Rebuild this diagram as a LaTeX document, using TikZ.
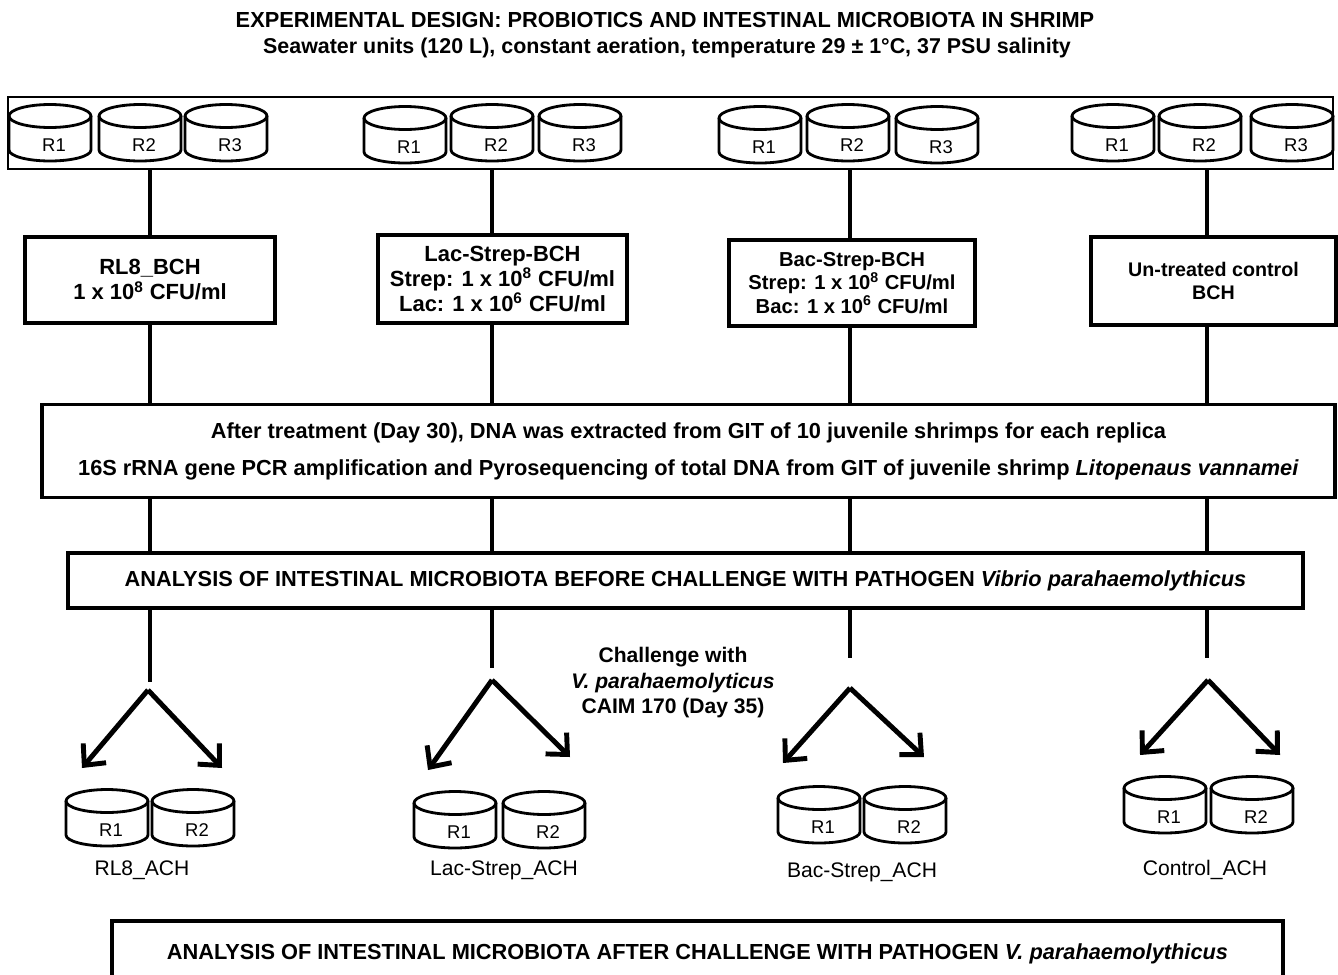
\documentclass[tikz,border=0pt]{standalone}
\usepackage{fontspec}
\setmainfont{Liberation Sans}
\usetikzlibrary{arrows.meta}
\usetikzlibrary{positioning}
\tikzset{box/.style = {draw, line width=2.2pt, inner sep=0pt, align=center, font=\bfseries\fontsize{12.5}{14.2}\selectfont}}
\tikzset{wide/.style = {draw, line width=2.2pt, inner sep=0pt, align=center, font=\bfseries\fontsize{12.4}{21}\selectfont}}
\tikzset{oneline/.style = {wide, text height=0.72em, text depth=0pt}}
\tikzset{link/.style = {line width=2.6pt}}
\tikzset{split/.style = {line width=2.8pt, -{Straight Barb[length=3.2mm, width=6mm, line width=2.8pt]}}}
\tikzset{tag/.style = {font=\fontsize{12}{14}\selectfont}}
\tikzset{tank/.pic = {
    \draw [line width=1.6pt, fill=white] (-41,0) -- (-41,34) arc [start angle=180, end angle=360, x radius=0.82cm, y radius=0.22cm] -- (41,0);
    \draw [line width=1.6pt] (0,0) ellipse [x radius=0.82cm, y radius=0.23cm];
    \node [font=\fontsize{10.5}{12}\selectfont] at (4,29) {#1};
  }}

\begin{document}
\begin{tikzpicture}[x=0.02cm, y=-0.02cm]
    \useasboundingbox (0,0) rectangle (1338,974);
    \clip (0,0) rectangle (1338,974);

    % heading
    \node [font=\bfseries\fontsize{12.4}{14}\selectfont] (title) at (665,20) {EXPERIMENTAL DESIGN: PROBIOTICS AND INTESTINAL MICROBIOTA IN SHRIMP};
    \node [font=\bfseries\fontsize{12.2}{14}\selectfont] (subtitle) at (667,48) {Seawater units (120 L), constant aeration, temperature 29 ± 1°C, 37 PSU salinity};

    % columns
    \coordinate (c1) at (150,0);
    \coordinate (c2) at (492,0);
    \coordinate (c3) at (850,0);
    \coordinate (c4) at (1207,0);

    % seawater units
    \node [draw, line width=0.8pt, minimum width=26.5cm, minimum height=1.44cm] (units) at (670.5,133) {};
    \pic at (50,116) {tank=R1};
    \pic at (140,116) {tank=R2};
    \pic at (226,116) {tank=R3};
    \pic at (405,118) {tank=R1};
    \pic at (492,116) {tank=R2};
    \pic at (580,116) {tank=R3};
    \pic at (760,118) {tank=R1};
    \pic at (848,116) {tank=R2};
    \pic at (937,118) {tank=R3};
    \pic at (1113,116) {tank=R1};
    \pic at (1200,116) {tank=R2};
    \pic at (1292,116) {tank=R3};

    % treatments
    \node [box, minimum width=5cm, minimum height=1.72cm] (rl8) at (150,280) {RL8\_BCH\\1 x 10\textsuperscript{8} CFU/ml};
    \node [box, minimum width=4.98cm, minimum height=1.76cm] (lac) at (502.5,279) {Lac-Strep-BCH\\Strep: 1 x 10\textsuperscript{8} CFU/ml\\Lac: 1 x 10\textsuperscript{6} CFU/ml};
    \node [box, font=\bfseries\fontsize{11.5}{13.5}\selectfont, minimum width=4.92cm, minimum height=1.72cm] (bac) at (852,283) {Bac-Strep-BCH\\Strep: 1 x 10\textsuperscript{8} CFU/ml\\Bac: 1 x 10\textsuperscript{6} CFU/ml};
    \node [box, font=\bfseries\fontsize{11.2}{13.5}\selectfont, minimum width=4.9cm, minimum height=1.76cm] (ctrl) at (1213.5,281) {Un-treated control\\BCH};

    \node [wide, minimum width=25.86cm, minimum height=1.86cm] (dna) at (688.5,451) {After treatment (Day 30), DNA was extracted from GIT of 10 juvenile shrimps for each replica\\16S rRNA gene PCR amplification and Pyrosequencing of total DNA from GIT of juvenile shrimp \textit{Litopenaus vannamei}};
    \node [oneline, minimum width=24.7cm, minimum height=1.1cm] (before) at (685.5,580.5) {ANALYSIS OF INTESTINAL MICROBIOTA BEFORE CHALLENGE WITH PATHOGEN \textit{Vibrio parahaemolythicus}};

    \draw [link] (units.south -| c1) -- (rl8.north -| c1);
    \draw [link] (units.south -| c2) -- (lac.north -| c2);
    \draw [link] (units.south -| c3) -- (bac.north -| c3);
    \draw [link] (units.south -| c4) -- (ctrl.north -| c4);
    \draw [link] (rl8.south -| c1) -- (dna.north -| c1);
    \draw [link] (lac.south -| c2) -- (dna.north -| c2);
    \draw [link] (bac.south -| c3) -- (dna.north -| c3);
    \draw [link] (ctrl.south -| c4) -- (dna.north -| c4);
    \draw [link] (dna.south -| c1) -- (before.north -| c1);
    \draw [link] (dna.south -| c2) -- (before.north -| c2);
    \draw [link] (dna.south -| c3) -- (before.north -| c3);
    \draw [link] (dna.south -| c4) -- (before.north -| c4);

    % challenge
    \coordinate (s1) at (150,682);
    \coordinate (s2) at (492,668);
    \coordinate (s3) at (850,658);
    \coordinate (s4) at (1207,658);
    \draw [link] (before.south -| c1) -- (s1);
    \draw [link] (before.south -| c2) -- (s2);
    \draw [link] (before.south -| c3) -- (s3);
    \draw [link] (before.south -| c4) -- (s4);

    \node [font=\bfseries\fontsize{12}{14.5}\selectfont, align=center] (challenge) at (673,683) {Challenge with\\\textit{V. parahaemolyticus}\\CAIM 170 (Day 35)};

    \coordinate (a1) at (148,690);
    \coordinate (a2) at (492,680);
    \coordinate (a3) at (850,688);
    \coordinate (a4) at (1208,680);
    \draw [split] (a1) -- (82,768);
    \draw [split] (a1) -- (222,768);
    \draw [split] (a2) -- (428,770);
    \draw [split] (a2) -- (570,757);
    \draw [split] (a3) -- (783,763);
    \draw [split] (a3) -- (924,757);
    \draw [split] (a4) -- (1140,755);
    \draw [split] (a4) -- (1280,755);

    % after challenge
    \pic at (107,801) {tank=R1};
    \pic at (193,801) {tank=R2};
    \pic at (455,803) {tank=R1};
    \pic at (544,803) {tank=R2};
    \pic at (819,798) {tank=R1};
    \pic at (905,798) {tank=R2};
    \pic at (1165,788) {tank=R1};
    \pic at (1252,788) {tank=R2};

    \node [tag] (rl8ach) at (142,870) {RL8\_ACH};
    \node [tag] (lacach) at (504,870) {Lac-Strep\_ACH};
    \node [tag] (bacach) at (862,872) {Bac-Strep\_ACH};
    \node [tag] (ctrlach) at (1205,870) {Control\_ACH};

    \node [oneline, minimum width=23.42cm, minimum height=1.28cm] (after) at (697.5,953) {ANALYSIS OF INTESTINAL MICROBIOTA AFTER CHALLENGE WITH PATHOGEN \textit{V. parahaemolythicus}};
  \end{tikzpicture}
\end{document}
